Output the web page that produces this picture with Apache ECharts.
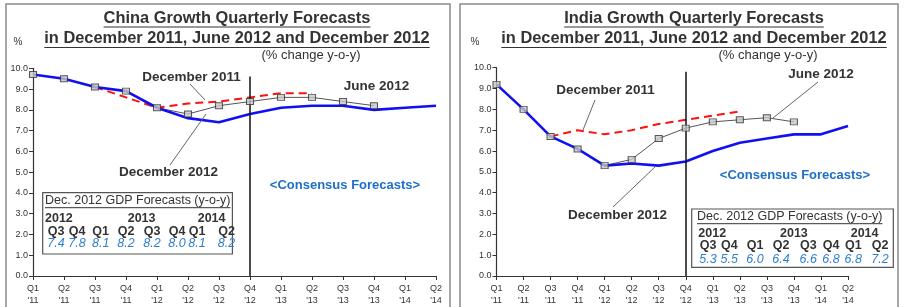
<!DOCTYPE html>
<html><head><meta charset="utf-8">
<script src="https://cdn.jsdelivr.net/npm/echarts@6/dist/echarts.min.js"></script>
<style>html,body{margin:0;padding:0;background:#fff}#c{width:904px;height:307px}</style>
</head><body><div id="c"></div>
<script>
// ---- data ----
const quarters = ['Q1','Q2','Q3','Q4','Q1','Q2','Q3','Q4','Q1','Q2','Q3','Q4','Q1','Q2'];
const years = ["'11","'11","'11","'11","'12","'12","'12","'12","'13","'13","'13","'13","'14","'14"];
const yTicks = [0,1,2,3,4,5,6,7,8,9,10];

const chinaDec2012 = [9.7,9.5,9.1,8.9,8.1,7.6,7.4,7.8,8.1,8.2,8.2,8.0,8.1,8.2];
const chinaJun2012 = [9.7,9.5,9.1,8.9,8.1,7.8,8.2,8.4,8.6,8.6,8.4,8.2,null,null];
const chinaDec2011 = [null,null,9.1,8.6,8.1,8.3,8.4,8.6,8.8,8.8,null,null,null,null];

const indiaDec2012 = [9.2,8.0,6.7,6.1,5.3,5.4,5.3,5.5,6.0,6.4,6.6,6.8,6.8,7.2];
const indiaJun2012 = [9.2,8.0,6.7,6.1,5.3,5.6,6.6,7.1,7.4,7.5,7.6,7.4,null,null];
const indiaDec2011 = [null,null,6.7,7.0,6.8,7.0,7.3,7.5,7.7,7.9,null,null,null,null];

const tableQuarters = ['Q3','Q4','Q1','Q2','Q3','Q4','Q1','Q2'];
const tableYears = ['2012','2013','2014'];
const cutCategoryIndex = 7; // Q4 '12

// ---- build ----
const cats = quarters.map((q,i)=>q+'\n'+years[i]);
const FONT = "'Liberation Sans', Arial, Helvetica, sans-serif";
const cv = document.createElement('canvas').getContext('2d');
function tw(t, size, weight){ cv.font = (weight||'normal')+' '+size+'px '+FONT; return cv.measureText(t).width; }

const chart = echarts.init(document.getElementById('c'), null, {renderer:'canvas'});

function xAxis(gi){
  return {type:'category', gridIndex:gi, data:cats, boundaryGap:false,
    axisLine:{lineStyle:{color:'#333',width:1.2}},
    axisTick:{show:true,length:4,inside:false,interval:0,lineStyle:{color:'#333'}},
    axisLabel:{interval:0,fontSize:9,lineHeight:12.5,color:'#333',margin:6,fontFamily:FONT},
    splitLine:{show:false}};
}
function yAxis(gi){
  return {type:'value', gridIndex:gi, min:0, max:10, interval:1,
    axisLine:{show:true,lineStyle:{color:'#333',width:1.2}},
    axisTick:{show:true,length:4,lineStyle:{color:'#333'}},
    axisLabel:{fontSize:9,color:'#333',margin:5,fontFamily:FONT,formatter:v=>v.toFixed(1)},
    splitLine:{show:false}};
}
function seriesFor(gi, dec12, jun12, dec11, topVal){
  return [
    {type:'line', xAxisIndex:gi, yAxisIndex:gi, data:dec11, showSymbol:false, z:2, silent:true,
      lineStyle:{color:'#ff1010',width:2,type:[8,5]}, connectNulls:false},
    {type:'line', xAxisIndex:gi, yAxisIndex:gi, data:jun12, showSymbol:false, z:3, silent:true,
      lineStyle:{color:'#555',width:1}},
    {type:'line', xAxisIndex:gi, yAxisIndex:gi, data:dec12, showSymbol:false, z:4, silent:true,
      lineStyle:{color:'#1010f0',width:2.6},
      markLine:{silent:true,symbol:'none',label:{show:false},
        lineStyle:{color:'#111',width:1.5,type:'solid'},
        data:[[{coord:[cutCategoryIndex,0]},{coord:[cutCategoryIndex,topVal]}]]}},
    {type:'scatter', xAxisIndex:gi, yAxisIndex:gi, data:jun12, symbol:'rect', symbolSize:[7,6], z:5, silent:true,
      itemStyle:{color:'#c8c8c8',borderColor:'#333',borderWidth:1}}
  ];
}

const graphics = [];
function txt(t,x,y,size,opts){
  opts=opts||{};
  graphics.push({type:'text', z:20, silent:true, style:{text:t,x:x,y:y,fill:opts.color||'#333',
    font:(opts.style||'normal')+' '+(opts.weight||'normal')+' '+size+'px '+FONT,
    align:opts.align||'center', verticalAlign:'middle'}});
}
function line(x1,y1,x2,y2,color,w){
  graphics.push({type:'line', z:19, silent:true, shape:{x1,y1,x2,y2}, style:{stroke:color||'#555',lineWidth:w||1}});
}
function uline(t,cx,y,size,weight,align){
  const w = tw(t,size,weight);
  const x1 = align==='left'? cx : cx - w/2;
  line(x1,y,x1+w,y,'#333',1);
}

function panel(p){
  graphics.push({type:'rect', z:1, silent:true, shape:{x:p.px,y:4,width:p.pw,height:330},
    style:{fill:'none',stroke:'#8a8a8a',lineWidth:1.5}});
  txt(p.title1,p.tcx,18,16.4,{weight:'bold'}); uline(p.title1,p.tcx,27,16.4,'bold');
  txt(p.title2,p.tcx,38.5,16.4,{weight:'bold'}); uline(p.title2,p.tcx,47.5,16.4,'bold');
  txt('(% change y-o-y)',p.tcx+74,55,13);
  txt('%',p.pcx,42,10);
  txt('December 2011',p.d11[0],p.d11[1],13.5,{weight:'bold'});
  txt('December 2012',p.d12[0],p.d12[1],13.5,{weight:'bold'});
  txt('June 2012',p.j12[0],p.j12[1],13.5,{weight:'bold'});
  p.leaders.forEach(l=>line(l[0],l[1],l[2],l[3],'#666',1));
  txt('<Consensus Forecasts>',p.cons[0],p.cons[1],13,{weight:'bold',color:'#1e6fc8'});
  // table
  const b = p.box;
  graphics.push({type:'rect', z:10, silent:true, shape:{x:b[0],y:b[1],width:b[2],height:b[3]},
    style:{fill:'#fff',stroke:'#555',lineWidth:1.2}});
  const tt='Dec. 2012 GDP Forecasts (y-o-y)';
  txt(tt,p.tTitle[0],p.tTitle[1],12.5,{align:'left'}); uline(tt,p.tTitle[0],p.tTitle[1]+7,12.5,'normal','left');
  tableYears.forEach((yr,i)=>txt(yr,p.yearX[i],p.rowY[0],12.5,{align:'left',weight:'bold'}));
  tableQuarters.forEach((q,i)=>txt(q,p.colX[i],p.rowY[1],12.5,{weight:'bold'}));
  p.vals.forEach((v,i)=>txt(v.toFixed(1),p.colX[i],p.rowY[2],12.5,{style:'italic',color:'#2f7fd0'}));
}

panel({px:6,pw:444,tcx:237,pcx:18,
  title1:'China Growth Quarterly Forecasts', title2:'in December 2011, June 2012 and December 2012',
  d11:[191.5,77.7], d12:[168.5,172], j12:[376.5,86.7], cons:[345,185],
  leaders:[[190,84,205,100],[170,165,206,114]],
  box:[42.7,192.7,189.7,61.3], tTitle:[45,200.7], yearX:[45,127.7,197.7], rowY:[219,231.5,244],
  colX:[56,77,100.7,126,152,177,197,226.5], vals:chinaDec2012.slice(6)});
panel({px:460,pw:438,tcx:694,pcx:475,
  title1:'India Growth Quarterly Forecasts', title2:'in December 2011, June 2012 and December 2012',
  d11:[605.5,90.7], d12:[617.5,215.7], j12:[821,74], cons:[795,175],
  leaders:[[595,100,583,130],[613,207,656,166],[818,82,773,118]],
  box:[691.7,209,201.6,58.3], tTitle:[697,216.7], yearX:[698.3,780,850.7], rowY:[233.3,246,259.3],
  colX:[708,729.3,755,781,808.3,831,853.3,880], vals:indiaDec2012.slice(6)});

chart.setOption({
  animation:false,
  backgroundColor:'#fff',
  textStyle:{fontFamily:FONT},
  grid:[
    {left:33, right:904-436, top:68.3, bottom:307-276.7, containLabel:false},
    {left:496.5, right:904-848, top:67.7, bottom:307-277.3, containLabel:false}
  ],
  xAxis:[xAxis(0),xAxis(1)],
  yAxis:[yAxis(0),yAxis(1)],
  series:[].concat(seriesFor(0,chinaDec2012,chinaJun2012,chinaDec2011,9.6),
                   seriesFor(1,indiaDec2012,indiaJun2012,indiaDec2011,9.8)),
  graphic:graphics
});
</script></body></html>
